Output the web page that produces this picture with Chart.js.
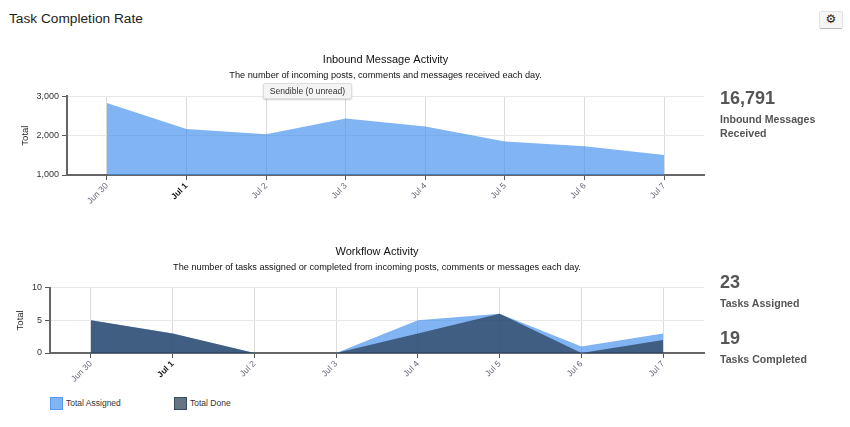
<!DOCTYPE html>
<html>
<head>
<meta charset="utf-8">
<script src="https://cdn.jsdelivr.net/npm/chart.js@4"></script>
<style>
    html, body { margin: 0; padding: 0; background: #fff; }
    body { width: 850px; height: 427px; position: relative; overflow: hidden; font-family: "Liberation Sans", Arial, sans-serif; }
    canvas { position: absolute; left: 0; }
    .abs { position: absolute; white-space: nowrap; }
    .page-title { left: 9px; top: 10px; font-size: 13.7px; line-height: 18px; color: #222; }
    .gear { left: 819px; top: 11px; width: 22px; height: 16px; line-height: 15px; text-align: center; font-size: 12px; color: #222;
        font-family: "DejaVu Sans"; background: #f6f6f6; border: 1px solid #e2e2e2; border-bottom-color: #bbb; border-radius: 2px; box-sizing: content-box; }
    .hint { left: 263px; top: 83px; width: 89px; height: 16px; line-height: 15px; text-align: center; font-size: 8.6px; color: #333;
        background: #f4f4f4; border: 1px solid #ddd; border-radius: 2px; box-shadow: 0 1px 2px rgba(0,0,0,.2); box-sizing: border-box; }
    .num { left: 720px; font-size: 18px; font-weight: bold; line-height: 22px; color: #555; }
    .cap { left: 720px; font-size: 10.6px; font-weight: bold; line-height: 14px; color: #555; }
    .legend-item { top: 397px; font-size: 8.5px; line-height: 13px; color: #333; }
    .legend-item i { display: inline-block; width: 11px; height: 11px; border: 1px solid; vertical-align: top; margin-right: 3px; }
</style>
</head>
<body>
<div class="abs page-title">Task Completion Rate</div>
<div class="abs gear">&#9881;</div>

<canvas id="inboundChart" width="771" height="167" style="top:48px"></canvas>
<canvas id="workflowChart" width="754" height="153" style="top:240px"></canvas>

<div class="abs hint">Sendible (0 unread)</div>

<div class="abs num" style="top:87px">16,791</div>
<div class="abs cap" style="top:112px">Inbound Messages<br>Received</div>
<div class="abs num" style="top:271px">23</div>
<div class="abs cap" style="top:296px">Tasks Assigned</div>
<div class="abs num" style="top:327px">19</div>
<div class="abs cap" style="top:352px">Tasks Completed</div>

<div id="legend"></div>

<script>
// Chart data
const days = ['Jun 30', 'Jul 1', 'Jul 2', 'Jul 3', 'Jul 4', 'Jul 5', 'Jul 6', 'Jul 7'];
const inboundMessages = [2830, 2170, 2035, 2432, 2230, 1851, 1732, 1511];
const totalAssigned = [5, 3, 0, 0, 5, 6, 1, 3];
const totalDone = [5, 3, 0, 0, 3, 6, 0, 2];
const inboundTicks = [1000, 2000, 3000];
const workflowTicks = [0, 5, 10];

const blue = 'rgba(60, 140, 235, 0.65)';
const dark = 'rgba(37, 57, 80, 0.7)';
const fontName = '"Liberation Sans", Arial, sans-serif';

Chart.defaults.font.family = fontName;
Chart.defaults.animation = false;

// Both charts share everything except the left margin, range and datasets
function buildChart(id, datasets, opts) {
    const ctx = document.getElementById(id).getContext('2d');
    return new Chart(ctx, {
        type: 'line',
        data: { labels: days, datasets: datasets },
        options: {
            responsive: false,
            devicePixelRatio: 1,
            layout: { padding: { left: 0, right: opts.right, top: 0, bottom: 0 } },
            elements: { point: { radius: 0 }, line: { tension: 0, borderWidth: 0 } },
            plugins: {
                legend: { display: false },
                tooltip: { enabled: false },
                title: {
                    display: true,
                    fullSize: false,
                    text: opts.title,
                    color: '#111',
                    font: { size: 11, weight: 'normal' },
                    padding: { top: 5, bottom: 2 }
                },
                subtitle: {
                    display: true,
                    fullSize: false,
                    text: opts.subtitle,
                    color: '#111',
                    font: { size: 9.2, weight: 'normal' },
                    padding: { top: 1.5, bottom: opts.subGap }
                }
            },
            scales: {
                x: {
                    offset: true,
                    afterFit: scale => { scale.height = 40; },
                    grid: { offset: false, color: '#dcdcdc', tickColor: '#555', tickLength: 5 },
                    border: { color: '#666', width: 2 },
                    ticks: {
                        autoSkip: false,
                        minRotation: 45,
                        maxRotation: 45,
                        padding: 1,
                        color: c => c.index === 1 ? '#111' : '#667',
                        font: c => ({ size: 8.5, weight: c.index === 1 ? 'bold' : 'normal' })
                    }
                },
                y: {
                    min: opts.ticks[0],
                    max: opts.ticks[opts.ticks.length - 1],
                    afterFit: scale => { scale.width = opts.left; },
                    afterBuildTicks: scale => { scale.ticks = opts.ticks.map(v => ({ value: v })); },
                    grid: { color: '#e8e8e8', tickColor: '#555', tickLength: 5 },
                    border: { color: '#666', width: 2 },
                    title: {
                        display: true,
                        text: 'Total',
                        color: '#222',
                        font: { size: 9.5 },
                        padding: { top: opts.titleLeft, bottom: 0 }
                    },
                    ticks: { color: '#333', font: { size: 9 }, padding: 3 }
                }
            }
        }
    });
}

buildChart('inboundChart', [
    { label: 'Inbound Messages', data: inboundMessages, backgroundColor: blue, borderColor: blue, fill: 'start' }
], {
    left: 67, right: 67, ticks: inboundTicks, titleLeft: 20, subGap: 15.5,
    title: 'Inbound Message Activity',
    subtitle: 'The number of incoming posts, comments and messages received each day.'
});

const workflowSets = [
    { label: 'Total Assigned', data: totalAssigned, backgroundColor: blue, borderColor: blue, fill: 'start', order: 2 },
    { label: 'Total Done', data: totalDone, backgroundColor: dark, borderColor: dark, fill: 'start', order: 1 }
];

buildChart('workflowChart', workflowSets, {
    left: 50, right: 50, ticks: workflowTicks, titleLeft: 15, subGap: 15,
    title: 'Workflow Activity',
    subtitle: 'The number of tasks assigned or completed from incoming posts, comments or messages each day.'
});

// Legend sits well apart from the chart so it is built by hand from the datasets
const legendLeft = [50, 174];
workflowSets.forEach((set, i) => {
    const item = document.createElement('div');
    item.className = 'abs legend-item';
    item.style.left = legendLeft[i] + 'px';
    item.innerHTML = `<i style="background:${set.backgroundColor};border-color:${set.borderColor}"></i>${set.label}`;
    document.getElementById('legend').appendChild(item);
});
</script>
</body>
</html>
